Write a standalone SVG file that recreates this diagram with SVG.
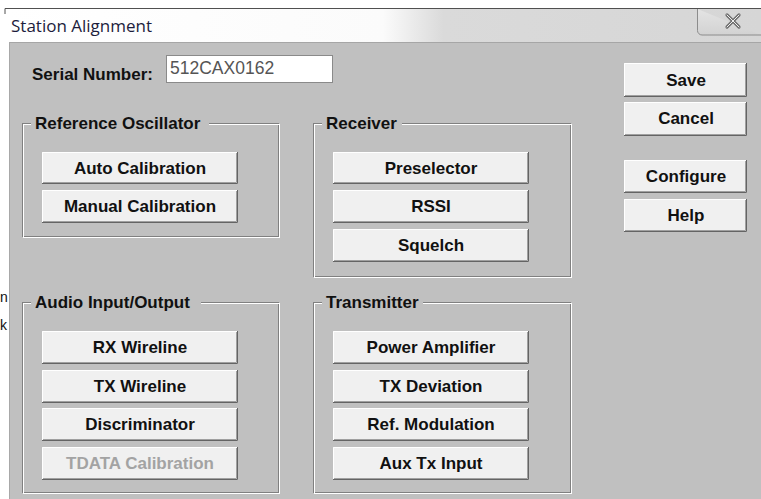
<svg xmlns="http://www.w3.org/2000/svg" width="761" height="499" viewBox="0 0 761 499">
<defs>
<linearGradient id="tb" x1="0" y1="0" x2="1" y2="0">
<stop offset="0" stop-color="#ffffff"/>
<stop offset="0.5" stop-color="#fbfbfb"/>
<stop offset="0.58" stop-color="#dadada"/>
<stop offset="1" stop-color="#d6d6d6"/>
</linearGradient>
<linearGradient id="cb" x1="0" y1="0" x2="0" y2="1">
<stop offset="0" stop-color="#e4e4e4"/>
<stop offset="1" stop-color="#d2d2d2"/>
</linearGradient>
</defs>
<style>
.face{fill:#f0f0f0}
.hi{fill:none;stroke:#ffffff;stroke-width:1}
.sh{fill:none;stroke:#646464;stroke-width:1}
.sh2{fill:none;stroke:#a0a0a0;stroke-width:1}
.etch1{fill:none;stroke:#808080;stroke-width:1}
.etch2{fill:none;stroke:#ffffff;stroke-width:1}
.gap{fill:#c0c0c0}
.b{font-family:"Liberation Sans",Arial,sans-serif;font-weight:bold;font-size:17px;fill:#111111}
.c{text-anchor:middle}
.dis{fill:#a3a3a3}
</style>
<rect x="0" y="0" width="761" height="499" fill="#ffffff"/>
<g id="window">
<rect x="5" y="8" width="756" height="34" fill="url(#tb)"/>
<path d="M5,14 V8.5 H761" fill="none" stroke="#505050" stroke-width="1"/>
<rect x="9" y="42" width="752" height="457" fill="#c0c0c0"/>
<line x1="9" y1="42.5" x2="761" y2="42.5" stroke="#a6a6a6"/>
<line x1="9.5" y1="42" x2="9.5" y2="499" stroke="#a8a8a8"/>
<text x="11" y="32" font-family="'Open Sans','Noto Sans',sans-serif" font-size="17" fill="#1c1c3c">Station Alignment</text>
<g id="close">
<path d="M697.5,9 V30.5 A4.5,4.5 0 0 0 702,35 H761" fill="url(#cb)" stroke="#8c8c8c"/>
<path d="M727,15 L739,27 M739,15 L727,27" stroke="#6f6f6f" stroke-width="3.2" stroke-linecap="round"/>
<path d="M727,15 L739,27 M739,15 L727,27" stroke="#f0f0f0" stroke-width="1" stroke-linecap="round"/>
</g>
<g font-family="'Liberation Sans',Arial,sans-serif" font-size="14" fill="#111">
<text x="0" y="302">n</text>
<text x="0" y="330">k</text>
</g>
</g>
<g id="serial">
<text class="b" x="32" y="80">Serial Number:</text>
<rect x="166.5" y="55.5" width="166" height="27" fill="#ffffff" stroke="#8a8a8a"/>
<text x="170" y="74" font-family="'Liberation Sans',Arial,sans-serif" font-size="17.5" fill="#555555">512CAX0162</text>
</g>
<g id="group-reference">
<rect class="etch1" x="22.5" y="123.5" width="256" height="113"/>
<rect class="etch2" x="23.5" y="124.5" width="256" height="113"/>
<rect class="gap" x="31" y="115" width="178" height="14"/>
<text class="b" x="35" y="129">Reference Oscillator</text>
</g>
<g id="group-receiver">
<rect class="etch1" x="313.5" y="123.5" width="257" height="153"/>
<rect class="etch2" x="314.5" y="124.5" width="257" height="153"/>
<rect class="gap" x="322" y="115" width="80" height="14"/>
<text class="b" x="326" y="129">Receiver</text>
</g>
<g id="group-audio">
<rect class="etch1" x="22.5" y="302.5" width="256" height="190"/>
<rect class="etch2" x="23.5" y="303.5" width="256" height="190"/>
<rect class="gap" x="31" y="294" width="170" height="14"/>
<text class="b" x="35" y="308">Audio Input/Output</text>
</g>
<g id="group-transmitter">
<rect class="etch1" x="313.5" y="302.5" width="257" height="190"/>
<rect class="etch2" x="314.5" y="303.5" width="257" height="190"/>
<rect class="gap" x="322" y="294" width="101" height="14"/>
<text class="b" x="326" y="308">Transmitter</text>
</g>
<g id="btn-save">
<rect class="face" x="624" y="63" width="123" height="34"/>
<path class="hi" d="M624.5,96 V63.5 H746"/>
<path class="sh2" d="M625,95.5 H745.5 V64"/>
<path class="sh" d="M624,96.5 H746.5 V63"/>
<text class="b c" x="686" y="86">Save</text>
</g>
<g id="btn-cancel">
<rect class="face" x="624" y="102" width="123" height="34"/>
<path class="hi" d="M624.5,135 V102.5 H746"/>
<path class="sh2" d="M625,134.5 H745.5 V103"/>
<path class="sh" d="M624,135.5 H746.5 V102"/>
<text class="b c" x="686" y="124">Cancel</text>
</g>
<g id="btn-configure">
<rect class="face" x="624" y="160" width="123" height="33"/>
<path class="hi" d="M624.5,192 V160.5 H746"/>
<path class="sh2" d="M625,191.5 H745.5 V161"/>
<path class="sh" d="M624,192.5 H746.5 V160"/>
<text class="b c" x="686" y="182">Configure</text>
</g>
<g id="btn-help">
<rect class="face" x="624" y="199" width="123" height="33"/>
<path class="hi" d="M624.5,231 V199.5 H746"/>
<path class="sh2" d="M625,230.5 H745.5 V200"/>
<path class="sh" d="M624,231.5 H746.5 V199"/>
<text class="b c" x="686" y="221">Help</text>
</g>
<g id="btn-auto-calibration">
<rect class="face" x="42" y="152" width="196" height="32"/>
<path class="hi" d="M42.5,183 V152.5 H237"/>
<path class="sh2" d="M43,182.5 H236.5 V153"/>
<path class="sh" d="M42,183.5 H237.5 V152"/>
<text class="b c" x="140" y="174">Auto Calibration</text>
</g>
<g id="btn-manual-calibration">
<rect class="face" x="42" y="190" width="196" height="33"/>
<path class="hi" d="M42.5,222 V190.5 H237"/>
<path class="sh2" d="M43,221.5 H236.5 V191"/>
<path class="sh" d="M42,222.5 H237.5 V190"/>
<text class="b c" x="140" y="212">Manual Calibration</text>
</g>
<g id="btn-preselector">
<rect class="face" x="333" y="152" width="196" height="32"/>
<path class="hi" d="M333.5,183 V152.5 H528"/>
<path class="sh2" d="M334,182.5 H527.5 V153"/>
<path class="sh" d="M333,183.5 H528.5 V152"/>
<text class="b c" x="431" y="174">Preselector</text>
</g>
<g id="btn-rssi">
<rect class="face" x="333" y="190" width="196" height="33"/>
<path class="hi" d="M333.5,222 V190.5 H528"/>
<path class="sh2" d="M334,221.5 H527.5 V191"/>
<path class="sh" d="M333,222.5 H528.5 V190"/>
<text class="b c" x="431" y="212">RSSI</text>
</g>
<g id="btn-squelch">
<rect class="face" x="333" y="229" width="196" height="33"/>
<path class="hi" d="M333.5,261 V229.5 H528"/>
<path class="sh2" d="M334,260.5 H527.5 V230"/>
<path class="sh" d="M333,261.5 H528.5 V229"/>
<text class="b c" x="431" y="251">Squelch</text>
</g>
<g id="btn-rx-wireline">
<rect class="face" x="42" y="331" width="196" height="33"/>
<path class="hi" d="M42.5,363 V331.5 H237"/>
<path class="sh2" d="M43,362.5 H236.5 V332"/>
<path class="sh" d="M42,363.5 H237.5 V331"/>
<text class="b c" x="140" y="353">RX Wireline</text>
</g>
<g id="btn-tx-wireline">
<rect class="face" x="42" y="370" width="196" height="33"/>
<path class="hi" d="M42.5,402 V370.5 H237"/>
<path class="sh2" d="M43,401.5 H236.5 V371"/>
<path class="sh" d="M42,402.5 H237.5 V370"/>
<text class="b c" x="140" y="392">TX Wireline</text>
</g>
<g id="btn-discriminator">
<rect class="face" x="42" y="408" width="196" height="33"/>
<path class="hi" d="M42.5,440 V408.5 H237"/>
<path class="sh2" d="M43,439.5 H236.5 V409"/>
<path class="sh" d="M42,440.5 H237.5 V408"/>
<text class="b c" x="140" y="430">Discriminator</text>
</g>
<g id="btn-tdata-calibration">
<rect class="face" x="42" y="447" width="196" height="33"/>
<path class="hi" d="M42.5,479 V447.5 H237"/>
<path class="sh2" d="M43,478.5 H236.5 V448"/>
<path class="sh" d="M42,479.5 H237.5 V447"/>
<text class="b c dis" x="140" y="469">TDATA Calibration</text>
</g>
<g id="btn-power-amplifier">
<rect class="face" x="333" y="331" width="196" height="33"/>
<path class="hi" d="M333.5,363 V331.5 H528"/>
<path class="sh2" d="M334,362.5 H527.5 V332"/>
<path class="sh" d="M333,363.5 H528.5 V331"/>
<text class="b c" x="431" y="353">Power Amplifier</text>
</g>
<g id="btn-tx-deviation">
<rect class="face" x="333" y="370" width="196" height="33"/>
<path class="hi" d="M333.5,402 V370.5 H528"/>
<path class="sh2" d="M334,401.5 H527.5 V371"/>
<path class="sh" d="M333,402.5 H528.5 V370"/>
<text class="b c" x="431" y="392">TX Deviation</text>
</g>
<g id="btn-ref-modulation">
<rect class="face" x="333" y="408" width="196" height="33"/>
<path class="hi" d="M333.5,440 V408.5 H528"/>
<path class="sh2" d="M334,439.5 H527.5 V409"/>
<path class="sh" d="M333,440.5 H528.5 V408"/>
<text class="b c" x="431" y="430">Ref. Modulation</text>
</g>
<g id="btn-aux-tx-input">
<rect class="face" x="333" y="447" width="196" height="33"/>
<path class="hi" d="M333.5,479 V447.5 H528"/>
<path class="sh2" d="M334,478.5 H527.5 V448"/>
<path class="sh" d="M333,479.5 H528.5 V447"/>
<text class="b c" x="431" y="469">Aux Tx Input</text>
</g>
<g id="connectors"/>
</svg>
